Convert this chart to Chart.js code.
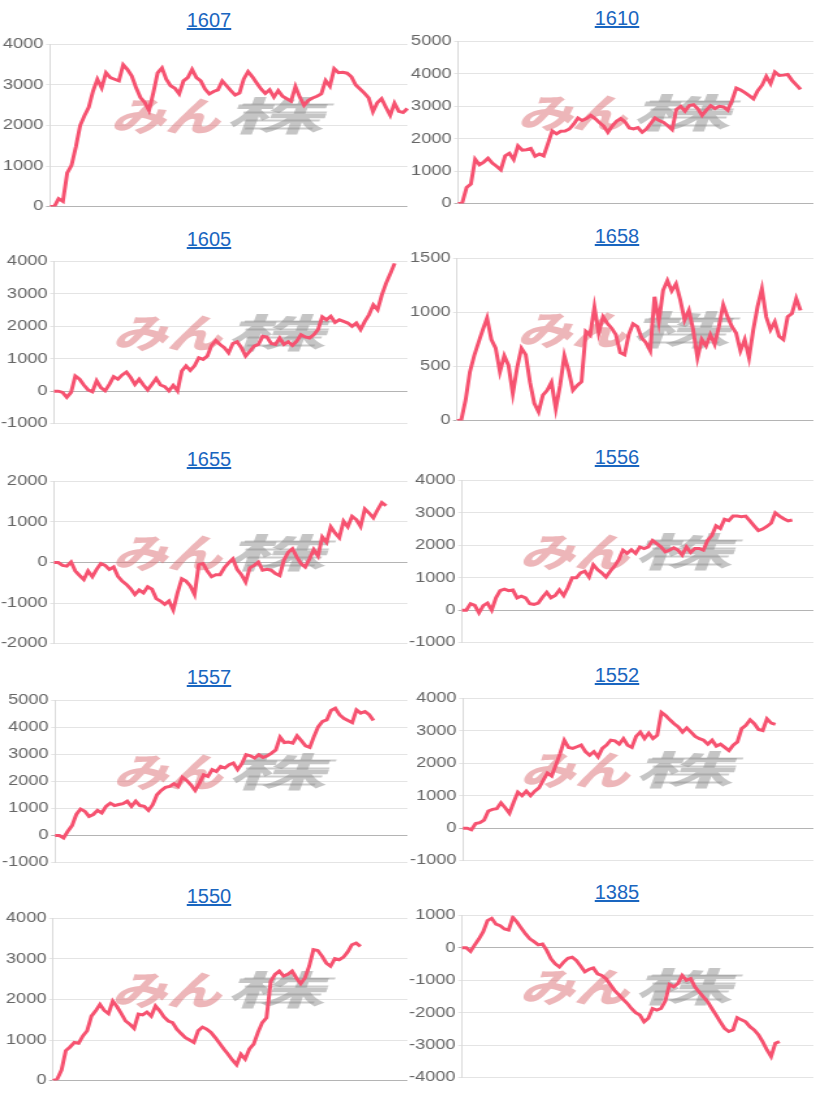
<!DOCTYPE html>
<html>
<head>
<meta charset="utf-8">
<script src="https://cdn.jsdelivr.net/npm/chart.js@4.4.1/dist/chart.umd.min.js"></script>
<style>
html, body { margin: 0; padding: 0; background: #fff; width: 816px; height: 1095px; overflow: hidden; font-family: "Liberation Sans", Arial, sans-serif; }
.title { position: absolute; font-size: 20px; line-height: 24px; transform: translateX(-50%); white-space: nowrap; }
.title a { color: #1a66c0; text-decoration: underline; }
canvas { position: absolute; }
</style>
</head>
<body>
<script>
// ---- data ----
const stockCodes = ['1607', '1610', '1605', '1658', '1655', '1556', '1557', '1552', '1550', '1385'];

const s1607 = [0,0,195,130,830,1020,1470,2000,2240,2450,2850,3140,2930,3300,3180,3140,3100,3500,3380,3220,2930,2690,2570,2370,2810,3300,3420,3140,2980,2920,2780,3100,3180,3380,3180,3100,2900,2780,2840,2880,3100,2980,2860,2750,2800,3150,3330,3200,3050,2900,2790,2880,2700,2860,2720,2660,2600,2960,2700,2500,2620,2680,2720,2780,3110,2970,3400,3300,3310,3290,3200,3000,2900,2800,2680,2340,2560,2660,2450,2250,2550,2350,2320,2420];
const s1610 = [0,30,500,600,1370,1200,1280,1400,1250,1150,1040,1470,1550,1360,1780,1650,1660,1700,1460,1530,1470,1850,2240,2150,2230,2240,2300,2450,2640,2560,2620,2720,2620,2500,2390,2200,2390,2540,2620,2520,2330,2300,2340,2200,2300,2470,2640,2560,2500,2400,2280,2900,3000,2850,3020,3050,2920,2720,2880,3020,2930,3000,2980,2880,3180,3560,3500,3420,3330,3230,3480,3650,3920,3700,4060,3950,3960,3980,3800,3660,3520];
const s1605 = [0,0,-40,-190,-40,470,370,190,40,-20,320,110,10,210,450,370,500,590,420,210,370,190,40,210,390,190,140,10,180,10,620,780,640,780,1030,980,1080,1410,1560,1440,1340,1180,1470,1520,1340,1080,1230,1390,1440,1690,1670,1470,1440,1640,1440,1520,1410,1540,1740,1670,1640,1740,1900,2290,2200,2310,2120,2200,2150,2100,2000,2100,1900,2150,2360,2660,2510,2970,3330,3630,3940];
const s1658 = [0,6,190,450,600,720,840,950,750,670,450,600,510,250,490,670,610,355,160,80,235,280,355,110,325,600,460,280,325,360,825,790,1050,810,960,900,855,795,630,610,795,895,870,765,720,645,1145,915,1205,1295,1200,1265,1115,930,1020,840,580,750,690,795,705,870,1070,960,870,810,645,750,580,840,1055,1220,960,840,915,780,750,960,990,1130,1020];
const s1655 = [0,0,-70,-90,10,-210,-320,-420,-210,-350,-170,-25,-70,-170,-110,-340,-460,-540,-650,-790,-680,-750,-600,-660,-890,-950,-1030,-950,-1170,-750,-400,-460,-580,-790,-50,-25,-210,-350,-300,-300,-130,-10,90,-170,-300,-480,-130,-70,10,-190,-170,-190,-270,-320,60,250,340,140,-25,-110,90,320,160,630,500,880,730,610,1020,880,1140,1060,890,1320,1220,1100,1300,1480,1400];
const s1556 = [0,0,200,150,-80,140,220,0,380,600,650,600,620,380,430,380,200,180,220,400,550,380,450,620,450,700,1000,1000,1150,1200,1020,1400,1250,1150,1020,1200,1350,1550,1850,1750,1860,1750,1950,1900,1950,2150,2050,1950,1800,1850,1920,1850,1700,1950,1780,1900,1900,1850,2150,2300,2600,2520,2800,2760,2900,2900,2880,2900,2750,2600,2450,2500,2580,2680,3000,2900,2820,2750,2780];
const s1557 = [0,0,-90,160,370,780,980,900,710,780,930,840,1080,1200,1110,1150,1180,1270,1080,1270,1110,1080,930,1140,1510,1670,1780,1820,1920,1820,2160,2040,1880,1670,1940,2250,2190,2440,2370,2560,2500,2620,2680,2440,2660,2990,2950,2870,2990,2890,2950,3050,3170,3640,3440,3460,3420,3690,3510,3320,3260,3670,4030,4220,4280,4630,4710,4470,4340,4260,4180,4650,4530,4590,4470,4260];
const s1552 = [0,0,-50,140,170,250,530,580,600,780,630,460,800,1110,1000,1140,1000,1140,1240,1470,1700,1610,1950,2300,2710,2490,2460,2510,2560,2360,2250,2360,2200,2460,2560,2710,2690,2590,2760,2560,2490,2830,2960,2760,2930,2760,2860,3570,3470,3340,3220,3120,2960,3090,2960,2830,2760,2710,2590,2710,2530,2590,2490,2390,2560,2660,3070,3170,3340,3220,3040,3010,3370,3240,3200];
const s1550 = [0,40,260,740,830,940,920,1100,1230,1590,1720,1880,1730,1650,1960,1820,1650,1470,1390,1290,1640,1620,1690,1590,1840,1720,1570,1470,1430,1270,1160,1060,1000,940,1230,1320,1270,1190,1060,920,780,650,510,390,650,530,780,900,1190,1430,1550,2450,2620,2700,2580,2620,2700,2530,2390,2530,2820,3230,3210,3070,2900,2820,3010,2980,3040,3170,3350,3390,3310];
const s1385 = [0,0,-110,90,280,500,840,910,730,680,580,550,940,790,600,430,280,190,90,120,-80,-340,-490,-590,-440,-320,-290,-390,-560,-740,-660,-620,-800,-850,-950,-1130,-1310,-1440,-1580,-1710,-1870,-2000,-2070,-2280,-2170,-1870,-1920,-1870,-1640,-1130,-1200,-1100,-850,-1000,-950,-1200,-1360,-1510,-1660,-1870,-2070,-2280,-2480,-2580,-2530,-2150,-2220,-2280,-2430,-2530,-2680,-2890,-3140,-3350,-2940,-2890];

const seriesList = [s1607, s1610, s1605, s1658, s1655, s1556, s1557, s1552, s1550, s1385];

// y-axis tick ranges
const yMin  = [0,    0,    -1000, 0,    -2000, -1000, -1000, -1000, 0,    -4000];
const yMax  = [4000, 5000, 4000,  1500, 2000,  4000,  5000,  4000,  4000, 1000];
const yStep = [1000, 1000, 1000,  500,  1000,  1000,  1000,  1000,  1000, 1000];

// x categories (trading days, labels hidden)
const dayCount = 84;
const dayLabels = Array.from({ length: dayCount }, (_, i) => String(i + 1));

// ---- layout (positions / sizes) ----
const layout = {
  col:       [0, 1, 0, 1, 0, 1, 0, 1, 0, 1],
  canvasTop: [34, 31, 251, 248, 471, 470, 690, 688, 908, 905],
  axisW:     [38.4, 38.5, 41.5, 37.7, 41.5, 41.6, 42.3, 42.3, 40.7, 41.6],
  titleY:    [20, 18, 239, 236, 459, 457, 677, 675, 896, 892],
  colLeft:   [0, 408],
  colCssW:   [410, 408],
  colAttrW:  [315, 314],
  titleX:    [209, 617],
  canvasH:   183
};

Chart.defaults.font.family = '"Liberation Sans", Arial, sans-serif';
Chart.defaults.animation = false;

const watermarkPlugin = {
  id: 'watermark',
  beforeDatasetsDraw(chart) {
    const a = chart.chartArea, ctx = chart.ctx;
    const cx = (a.left + a.right) / 2, cy = (a.top + a.bottom) / 2 - 12;
    ctx.save();
    ctx.translate(cx, cy);
    ctx.transform(1, 0, -0.3, 1, 0, 0);
    ctx.textBaseline = 'middle';
    ctx.save();
    ctx.scale(1.05, 1);
    ctx.font = '900 40px "Noto Sans CJK JP"';
    ctx.textAlign = 'right';
    ctx.fillStyle = 'rgba(220,110,115,0.5)';
    ctx.fillText('みん', -2, 2);
    ctx.restore();
    ctx.save();
    ctx.scale(1.9, 1);
    ctx.textAlign = 'left';
    ctx.font = 'bold 40px "Noto Sans CJK JP"';
    ctx.fillStyle = 'rgba(140,140,140,0.5)';
    ctx.fillText('株', 1, 2);
    ctx.restore();
    // speed lines
    ctx.fillStyle = 'rgba(140,140,140,0.45)';
    [-10, -2, 6, 14].forEach((dy, k) => { ctx.fillRect(8 + k * 3, dy, 70 - k * 6, 2); });
    ctx.restore();
  }
};

stockCodes.forEach((code, i) => {
  const c = layout.col[i];
  const t = document.createElement('div');
  t.className = 'title';
  t.style.left = layout.titleX[c] + 'px';
  t.style.top = (layout.titleY[i] - 12) + 'px';
  const a = document.createElement('a');
  a.href = '#';
  a.textContent = code;
  t.appendChild(a);
  document.body.appendChild(t);

  const cv = document.createElement('canvas');
  cv.width = layout.colAttrW[c];
  cv.height = layout.canvasH;
  cv.style.left = layout.colLeft[c] + 'px';
  cv.style.top = layout.canvasTop[i] + 'px';
  cv.style.width = layout.colCssW[c] + 'px';
  cv.style.height = layout.canvasH + 'px';
  document.body.appendChild(cv);

  const axisWidth = layout.axisW[i];
  new Chart(cv, {
    type: 'line',
    data: {
      labels: dayLabels,
      datasets: [{
        data: seriesList[i],
        borderColor: 'rgb(246, 82, 112)',
        borderWidth: 3,
        pointRadius: 0,
        pointHoverRadius: 0,
        tension: 0,
        fill: false
      }]
    },
    options: {
      responsive: false,
      devicePixelRatio: 1,
      animation: false,
      events: [],
      layout: { padding: { top: 10, bottom: 10, left: 0, right: 2 } },
      plugins: { legend: { display: false }, tooltip: { enabled: false } },
      scales: {
        x: { display: false },
        y: {
          min: yMin[i],
          max: yMax[i],
          ticks: { stepSize: yStep[i], color: '#666', font: { size: 14 }, padding: 2, callback: v => String(v) },
          grid: {
            color: ctx => (ctx.tick && ctx.tick.value === 0) ? '#b4b4b4' : '#e4e4e4',
            tickLength: 3,
            lineWidth: 1
          },
          border: { color: '#dadada' },
          afterFit: s => { s.width = axisWidth; }
        }
      }
    },
    plugins: [watermarkPlugin]
  });
});
</script>
</body>
</html>
